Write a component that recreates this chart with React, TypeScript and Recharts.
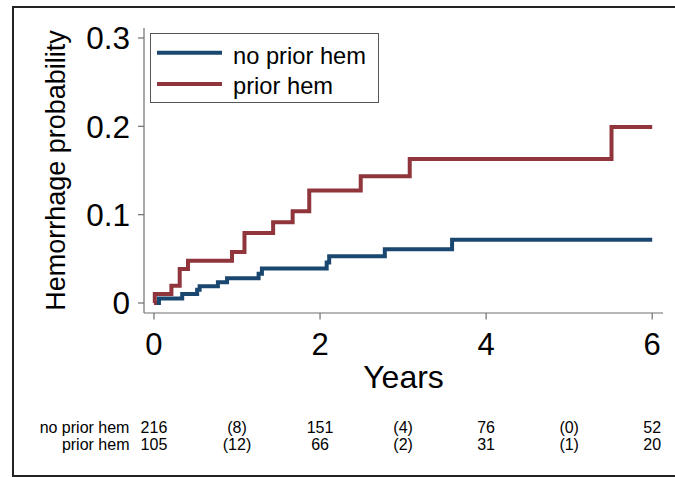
import { LineChart, Line, XAxis, YAxis, Legend } from "recharts"

// Kaplan-Meier style cumulative hemorrhage probability
const noPriorTimes = [0, 0.06, 0.34, 0.52, 0.55, 0.77, 0.88, 1.26, 1.3, 2.08, 2.11, 2.78, 3.59, 6]
const noPriorProb = [0, 0.005, 0.0102, 0.015, 0.019, 0.0234, 0.028, 0.033, 0.039, 0.046, 0.053, 0.061, 0.0717, 0.0717]
const priorTimes = [0, 0.01, 0.21, 0.31, 0.41, 0.94, 1.09, 1.435, 1.67, 1.87, 2.49, 3.08, 5.51, 6]
const priorProb = [0, 0.0102, 0.0196, 0.0385, 0.0479, 0.0577, 0.0792, 0.0913, 0.1038, 0.1275, 0.1434, 0.163, 0.1992, 0.1992]

const xTicks = [0, 2, 4, 6]
const yTicks = [0, 0.1, 0.2, 0.3]

// number at risk table
const riskTimes = [0, 1, 2, 3, 4, 5, 6]
const riskNoPrior = ["216", "(8)", "151", "(4)", "76", "(0)", "52"]
const riskPrior = ["105", "(12)", "66", "(2)", "31", "(1)", "20"]

const BLUE = "#1a476f"
const RED = "#90353b"
const AXIS = "#6e6e6e"
const FONT = "'Liberation Sans', Arial, sans-serif"

const noPriorData = noPriorTimes.map((t, i) => ({ t, p: noPriorProb[i] }))
const priorData = priorTimes.map((t, i) => ({ t, p: priorProb[i] }))

function LegendBox() {
  return (
    <div style={{ width: 229, height: 70, boxSizing: "border-box", border: "1px solid #555", background: "#fff" }}>
      <svg width={227} height={68} style={{ display: "block" }}>
        <line x1={6} x2={71} y1={18.7} y2={18.7} stroke={BLUE} strokeWidth={4} />
        <text x={82} y={29.5} fontSize={23.7} fontFamily={FONT} fill="#000">no prior hem</text>
        <line x1={6} x2={71} y1={50} y2={50} stroke={RED} strokeWidth={4} />
        <text x={82} y={60} fontSize={23.7} fontFamily={FONT} fill="#000">prior hem</text>
      </svg>
    </div>
  )
}

// x axis tick: tick mark + year label on even years, plus the number-at-risk rows
function YearTick(props: any) {
  const { x, y, payload } = props
  const i = riskTimes.indexOf(payload.value)
  const labelled = xTicks.includes(payload.value)
  const small = { fontSize: 16, fontFamily: FONT, fill: "#000" }
  return (
    <g>
      {labelled && (
        <>
          <line x1={x} x2={x} y1={y} y2={y + 6.5} stroke={AXIS} strokeWidth={1.2} />
          <text x={x} y={y + 42} textAnchor="middle" fontSize={31} fontFamily={FONT} fill="#000">
            {payload.value}
          </text>
        </>
      )}
      {i === 0 && (
        <>
          <text x={x - 24.5} y={y + 120} textAnchor="end" {...small}>no prior hem</text>
          <text x={x - 24.5} y={y + 137.2} textAnchor="end" {...small}>prior hem</text>
        </>
      )}
      <text x={x} y={y + 120} textAnchor="middle" {...small}>{riskNoPrior[i]}</text>
      <text x={x} y={y + 137.2} textAnchor="middle" {...small}>{riskPrior[i]}</text>
    </g>
  )
}

function YearsLabel(props: any) {
  const { x, y, width } = props.viewBox
  return (
    <text x={x + width / 2} y={y + 74.7} textAnchor="middle" fontSize={32} fontFamily={FONT} fill="#000">
      Years
    </text>
  )
}

function ProbLabel(props: any) {
  const { y, height } = props.viewBox
  const cx = 65
  const cy = y + height / 2
  return (
    <text x={cx} y={cy} transform={`rotate(-90 ${cx} ${cy})`} textAnchor="middle" fontSize={27} fontFamily={FONT} fill="#000">
      Hemorrhage probability
    </text>
  )
}

export default function App() {
  return (
    <div style={{ position: "fixed", left: 0, top: 0, width: 675, height: 477, overflow: "hidden", background: "#fff" }}>
      <div
        style={{
          position: "absolute",
          left: 12,
          top: 6,
          width: 700,
          height: 471,
          boxSizing: "border-box",
          border: "2px solid #222",
        }}
      />
      <div style={{ position: "absolute", left: 0, top: 0 }}>
        <LineChart width={675} height={477} margin={{ top: 28, right: 12, bottom: 84, left: 0 }}>
          <XAxis
            dataKey="t"
            type="number"
            domain={[-0.12, 6.13]}
            ticks={riskTimes}
            interval={0}
            height={80}
            stroke={AXIS}
            strokeWidth={1.2}
            tickLine={false}
            tickSize={0}
            tickMargin={0}
            tick={(p: any) => <YearTick {...p} />}
            label={<YearsLabel />}
          />
          <YAxis
            type="number"
            domain={[-0.0113, 0.3113]}
            ticks={yTicks}
            interval={0}
            width={144}
            stroke={AXIS}
            strokeWidth={1.2}
            tickSize={6}
            tickMargin={8}
            tickFormatter={(v: number) => String(v)}
            tick={{ fontSize: 31.5, fontFamily: FONT, fill: "#000" }}
            label={<ProbLabel />}
          />
          <Legend
            layout="vertical"
            align="center"
            verticalAlign="middle"
            content={<LegendBox />}
            wrapperStyle={{ left: 150, top: 33, width: 229, height: 70 }}
          />
          <Line
            data={noPriorData}
            dataKey="p"
            name="no prior hem"
            type="stepAfter"
            stroke={BLUE}
            strokeWidth={4}
            dot={false}
            isAnimationActive={false}
          />
          <Line
            data={priorData}
            dataKey="p"
            name="prior hem"
            type="stepAfter"
            stroke={RED}
            strokeWidth={4}
            dot={false}
            isAnimationActive={false}
          />
        </LineChart>
      </div>
    </div>
  )
}
